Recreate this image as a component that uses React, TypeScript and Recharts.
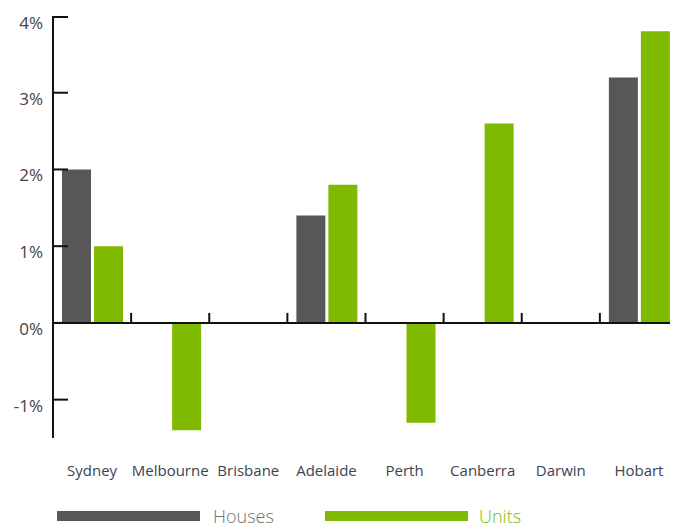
import React from 'react';
import { BarChart, Bar, XAxis, YAxis, Legend, ReferenceLine } from 'recharts';

// Annual price change by capital city
const cities = ['Sydney', 'Melbourne', 'Brisbane', 'Adelaide', 'Perth', 'Canberra', 'Darwin', 'Hobart'];
const housesChange = [2.0, 0, 0, 1.4, 0, 0, 0, 3.2];
const unitsChange = [1.0, -1.4, 0, 1.8, -1.3, 2.6, 0, 3.8];
const yTicks = [-1, 0, 1, 2, 3, 4];

const HOUSES_COLOR = '#575757';
const UNITS_COLOR = '#80ba00';
const FONT = '"Open Sans", sans-serif';

const data = cities.map((city, i) => ({
  city,
  houses: housesChange[i],
  units: unitsChange[i],
}));

// Y ticks point inward, labels sit a little below the tick
const YTick = ({ x, y, payload }: { x?: number; y?: number; payload?: { value: number } }) => {
  if (x == null || y == null || !payload) return null;
  return (
    <g>
      <line x1={x} y1={y} x2={x + 15} y2={y} stroke="#111" strokeWidth={2} />
      <text x={x - 10} y={y + 12} textAnchor="end" fontFamily={FONT} fontSize={17} fill="#444">
        {`${payload.value}%`}
      </text>
    </g>
  );
};

const XTick = ({ x, y, payload }: { x?: number; y?: number; payload?: { value: string } }) => {
  if (x == null || y == null || !payload) return null;
  return (
    <text x={x} y={y + 38} textAnchor="middle" fontFamily={FONT} fontSize={15} fill="#3d4350">
      {payload.value}
    </text>
  );
};

// zero line with small upward ticks at the category boundaries
const ZeroLine = (props: { x1?: number; x2?: number; y1?: number }) => {
  const { x1 = 0, x2 = 0, y1 = 0 } = props;
  const step = (x2 - x1) / cities.length;
  return (
    <g>
      <line x1={x1} y1={y1} x2={x2} y2={y1} stroke="#111" strokeWidth={2} />
      {cities.map((c, i) => (
        <line key={c} x1={x1 + step * i} y1={y1 - 10} x2={x1 + step * i} y2={y1} stroke="#111" strokeWidth={2} />
      ))}
    </g>
  );
};

const legendText: Record<string, string> = {
  Houses: '#707070',
  Units: UNITS_COLOR,
};

const renderLegend = (props: { payload?: Array<{ value: string; color?: string }> }) => {
  const items = props.payload || [];
  return (
    <div
      style={{
        display: 'flex',
        alignItems: 'center',
        boxSizing: 'border-box',
        height: 24,
        paddingTop: 2,
        paddingLeft: 49,
        fontFamily: FONT,
        fontSize: 18,
        fontWeight: 300,
      }}
    >
      {items.map((entry, i) => (
        <React.Fragment key={entry.value}>
          <span style={{ display: 'inline-block', width: 143, height: 10, background: entry.color }} />
          <span
            style={{
              display: 'inline-block',
              lineHeight: '18px',
              marginLeft: i === 0 ? 13 : 11,
              width: i === 0 ? 112 : undefined,
              color: legendText[entry.value],
            }}
          >
            {entry.value}
          </span>
        </React.Fragment>
      ))}
    </div>
  );
};

export default function App() {
  return (
    <div style={{ width: 670, height: 519 }}>
      <BarChart
        width={670}
        height={519}
        data={data}
        margin={{ top: 8, right: 0, left: 0, bottom: 0 }}
        barSize={29}
        barGap={3}
      >
        <XAxis
          dataKey="city"
          axisLine={false}
          tickLine={false}
          tickSize={0}
          tickMargin={0}
          height={65}
          interval={0}
          tick={<XTick />}
        />
        <YAxis
          type="number"
          domain={[-1.5, 4]}
          ticks={yTicks}
          width={45}
          axisLine={{ stroke: '#111', strokeWidth: 2 }}
          tickLine={false}
          tickSize={0}
          tickMargin={0}
          tick={<YTick />}
        />
        <Legend verticalAlign="bottom" align="left" content={renderLegend} />
        <Bar dataKey="houses" name="Houses" fill={HOUSES_COLOR} isAnimationActive={false} />
        <Bar dataKey="units" name="Units" fill={UNITS_COLOR} isAnimationActive={false} />
        <ReferenceLine y={0} shape={<ZeroLine />} />
      </BarChart>
    </div>
  );
}
